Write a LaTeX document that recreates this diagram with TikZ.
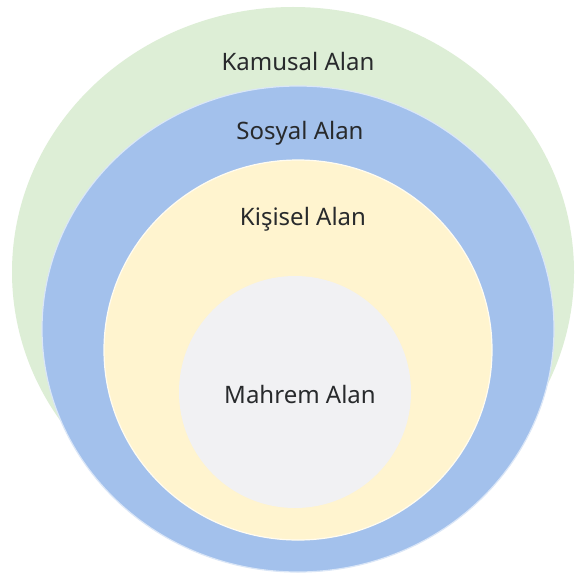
\documentclass[tikz,border=0pt]{standalone}
\usepackage{fontspec}
\setmainfont{Noto Sans}
\definecolor{kgreen}{RGB}{221,238,214}
\definecolor{kblue}{RGB}{163,193,236}
\definecolor{kyellow}{RGB}{255,244,207}
\definecolor{kgray}{RGB}{241,241,243}
\definecolor{ktext}{RGB}{40,42,44}
\begin{document}
\begin{tikzpicture}[x=1pt,y=-1pt,
  zone/.style={line width=1.2pt},
  lbl/.style={anchor=base, inner sep=0pt, text=ktext, font=\fontsize{24}{28}\selectfont}]
\useasboundingbox (0,0) rectangle (577,575);
\fill[white] (0,0) rectangle (577,575);
\path[zone, fill=kgreen] (293,272) circle[x radius=281, y radius=265];
\path[zone, fill=kblue, draw=white!60!kblue] (298,329) circle[x radius=256, y radius=243];
\path[zone, fill=kyellow, draw=white!70!kyellow] (298,350) circle[x radius=194, y radius=190];
\path[fill=kgray] (295,392) circle[radius=116];
\node[lbl] (kamusal) at (298,71) {Kamusal Alan};
\node[lbl] (sosyal) at (300,139) {Sosyal Alan};
\node[lbl] (kisisel) at (303,225) {Kişisel Alan};
\node[lbl] (mahrem) at (300,403) {Mahrem Alan};
\end{tikzpicture}
\end{document}
